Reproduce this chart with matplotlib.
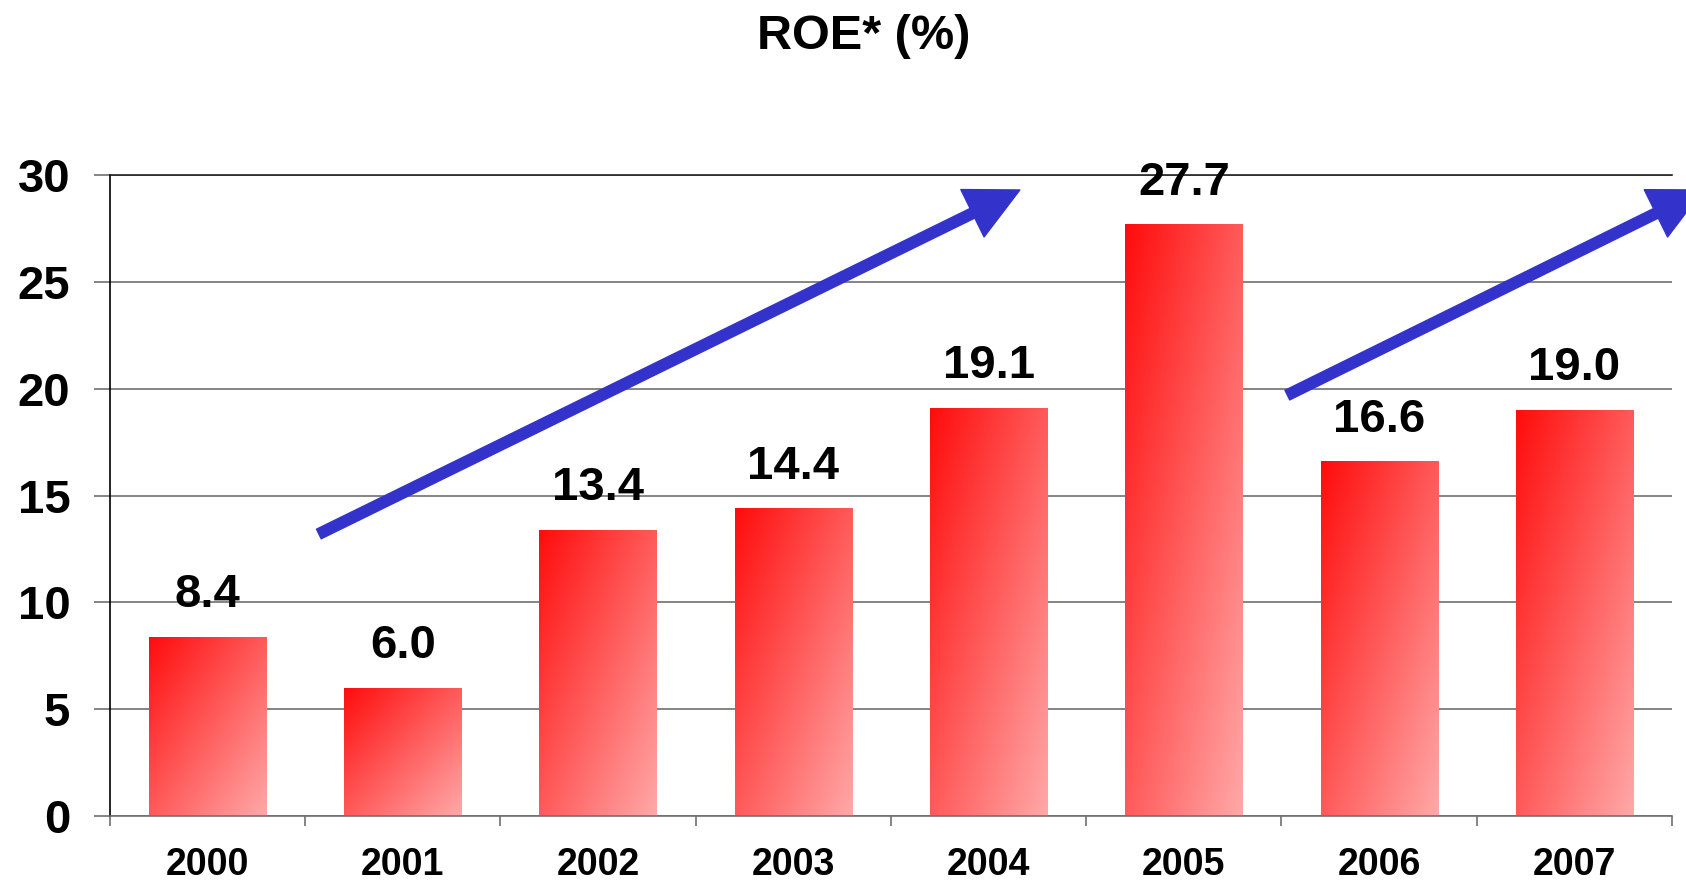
"""ROE bar chart with diagonal red gradient bars and trend arrows."""

import numpy as np
import matplotlib

matplotlib.use("Agg")
import matplotlib.pyplot as plt
from matplotlib.colors import LinearSegmentedColormap

YEARS = ["2000", "2001", "2002", "2003", "2004", "2005", "2006", "2007"]
ROE = [8.4, 6.0, 13.4, 14.4, 19.1, 27.7, 16.6, 19.0]
Y_TICKS = [0, 5, 10, 15, 20, 25, 30]
TITLE = "ROE* (%)"

# trend arrows: (start, tip) in data coordinates
ARROWS = [
    ((0.57, 13.2), (4.16, 29.3)),
    ((5.53, 19.7), (7.66, 29.3)),
]

plt.rcParams["font.family"] = ["Liberation Sans", "DejaVu Sans"]
plt.rcParams["font.weight"] = "bold"

fig = plt.figure(figsize=(16.86, 8.8), dpi=100)
ax = fig.add_axes([0.0652, 0.0727, 0.9265, 0.7284])

x = np.arange(len(YEARS))
bars = ax.bar(x, ROE, width=0.6, color="none", edgecolor="none")

cmap = LinearSegmentedColormap.from_list("redfade", ["#ff0c0c", "#ffa8a8"])
n = 200
u = np.linspace(0, 1, n)
grad = (u[None, :] + u[:, None]) / 2
for b in bars:
    x0, y0 = b.get_x(), b.get_y()
    w, h = b.get_width(), b.get_height()
    im = ax.imshow(grad, cmap=cmap, extent=(x0, x0 + w, y0, y0 + h),
                   origin="upper", aspect="auto", zorder=2,
                   interpolation="bilinear")
    im.set_clip_path(b)

for xi, v in zip(x, ROE):
    ax.annotate(f"{v:.1f}", (xi, v), xytext=(0, 30), textcoords="offset points",
                ha="center", va="center", fontsize=34, fontweight="bold")

for start, tip in ARROWS:
    ax.annotate("", xy=tip, xytext=start, annotation_clip=False,
                arrowprops=dict(color="#3333cc", width=7.7, headwidth=38,
                                headlength=38, shrink=0), zorder=4)

ax.set_xlim(-0.5, len(YEARS) - 0.5)
ax.set_ylim(0, 30)
ax.set_yticks(Y_TICKS)
ax.set_yticklabels([str(t) for t in Y_TICKS])
ax.set_xticks(x)
ax.set_xticklabels(YEARS)
ax.set_xticks(np.arange(-0.5, len(YEARS)), minor=True)

ax.yaxis.grid(True, color="#707070", linewidth=1.2)
ax.set_axisbelow(True)
ax.tick_params(axis="y", length=11.5, width=1.2, color="#707070", pad=17,
               labelsize=34)
ax.tick_params(axis="x", which="major", length=0, pad=22, labelsize=27)
ax.tick_params(axis="x", which="minor", length=7, width=1.2, color="#707070")
for lab in ax.get_xticklabels() + ax.get_yticklabels():
    lab.set_fontweight("bold")

ax.spines["right"].set_visible(False)
ax.spines["top"].set_color("#222222")
ax.spines["top"].set_linewidth(1.2)
ax.spines["left"].set_color("black")
ax.spines["left"].set_linewidth(1.2)
ax.spines["bottom"].set_color("#707070")
ax.spines["bottom"].set_linewidth(1.2)

fig.text(0.512, 0.958, TITLE, ha="center", va="center", fontsize=35,
         fontweight="bold")

fig.savefig("out.png", dpi=100)
